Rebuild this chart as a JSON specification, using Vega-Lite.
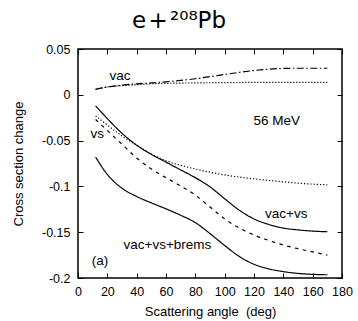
{
  "$schema": "https://vega.github.io/schema/vega-lite/v6.json",
  "width": 264,
  "height": 229,
  "autosize": "none",
  "padding": {"left": 78, "top": 49, "right": 16, "bottom": 43},
  "background": "white",
  "config": {"view": {"stroke": "black", "strokeWidth": 1.5}, "font": "Liberation Sans"},
  "title": {"text": "e\u200a+\u200a²⁰⁸Pb", "font": "DejaVu Sans", "fontSize": 23, "fontWeight": "normal", "anchor": "middle", "dx": -31, "offset": 10, "color": "black"},
  "datasets": {
    "curves": [
      {"s": "A", "x": 12, "y": 0.006}, {"s": "A", "x": 20, "y": 0.0085}, {"s": "A", "x": 30, "y": 0.0105}, {"s": "A", "x": 40, "y": 0.012}, {"s": "A", "x": 50, "y": 0.013}, {"s": "A", "x": 60, "y": 0.0142}, {"s": "A", "x": 70, "y": 0.0157}, {"s": "A", "x": 80, "y": 0.0175}, {"s": "A", "x": 90, "y": 0.0198}, {"s": "A", "x": 100, "y": 0.0222}, {"s": "A", "x": 110, "y": 0.0245}, {"s": "A", "x": 120, "y": 0.0265}, {"s": "A", "x": 130, "y": 0.028}, {"s": "A", "x": 140, "y": 0.0288}, {"s": "A", "x": 150, "y": 0.029}, {"s": "A", "x": 160, "y": 0.029}, {"s": "A", "x": 170, "y": 0.029},
      {"s": "B", "x": 12, "y": 0.006}, {"s": "B", "x": 20, "y": 0.0085}, {"s": "B", "x": 30, "y": 0.0100}, {"s": "B", "x": 40, "y": 0.011}, {"s": "B", "x": 50, "y": 0.012}, {"s": "B", "x": 60, "y": 0.0125}, {"s": "B", "x": 80, "y": 0.013}, {"s": "B", "x": 100, "y": 0.0133}, {"s": "B", "x": 120, "y": 0.0135}, {"s": "B", "x": 140, "y": 0.0135}, {"s": "B", "x": 170, "y": 0.0135},
      {"s": "C", "x": 12, "y": -0.023}, {"s": "C", "x": 20, "y": -0.033}, {"s": "C", "x": 30, "y": -0.045}, {"s": "C", "x": 40, "y": -0.055}, {"s": "C", "x": 50, "y": -0.0645}, {"s": "C", "x": 60, "y": -0.072}, {"s": "C", "x": 70, "y": -0.077}, {"s": "C", "x": 80, "y": -0.081}, {"s": "C", "x": 90, "y": -0.0845}, {"s": "C", "x": 100, "y": -0.0875}, {"s": "C", "x": 110, "y": -0.0898}, {"s": "C", "x": 120, "y": -0.0918}, {"s": "C", "x": 130, "y": -0.0935}, {"s": "C", "x": 140, "y": -0.095}, {"s": "C", "x": 150, "y": -0.0965}, {"s": "C", "x": 160, "y": -0.0975}, {"s": "C", "x": 170, "y": -0.0983},
      {"s": "D", "x": 12, "y": -0.012}, {"s": "D", "x": 20, "y": -0.026}, {"s": "D", "x": 30, "y": -0.042}, {"s": "D", "x": 40, "y": -0.055}, {"s": "D", "x": 50, "y": -0.065}, {"s": "D", "x": 60, "y": -0.0735}, {"s": "D", "x": 70, "y": -0.082}, {"s": "D", "x": 80, "y": -0.0905}, {"s": "D", "x": 90, "y": -0.1005}, {"s": "D", "x": 100, "y": -0.1135}, {"s": "D", "x": 110, "y": -0.126}, {"s": "D", "x": 120, "y": -0.1355}, {"s": "D", "x": 130, "y": -0.1415}, {"s": "D", "x": 140, "y": -0.1455}, {"s": "D", "x": 150, "y": -0.1475}, {"s": "D", "x": 160, "y": -0.1488}, {"s": "D", "x": 170, "y": -0.1495},
      {"s": "E", "x": 12, "y": -0.027}, {"s": "E", "x": 20, "y": -0.039}, {"s": "E", "x": 30, "y": -0.054}, {"s": "E", "x": 40, "y": -0.069}, {"s": "E", "x": 50, "y": -0.081}, {"s": "E", "x": 60, "y": -0.0905}, {"s": "E", "x": 70, "y": -0.0995}, {"s": "E", "x": 80, "y": -0.1095}, {"s": "E", "x": 90, "y": -0.1225}, {"s": "E", "x": 100, "y": -0.1355}, {"s": "E", "x": 110, "y": -0.1455}, {"s": "E", "x": 120, "y": -0.153}, {"s": "E", "x": 130, "y": -0.159}, {"s": "E", "x": 140, "y": -0.164}, {"s": "E", "x": 150, "y": -0.168}, {"s": "E", "x": 160, "y": -0.1715}, {"s": "E", "x": 170, "y": -0.175},
      {"s": "F", "x": 12, "y": -0.068}, {"s": "F", "x": 20, "y": -0.087}, {"s": "F", "x": 30, "y": -0.102}, {"s": "F", "x": 40, "y": -0.111}, {"s": "F", "x": 50, "y": -0.118}, {"s": "F", "x": 60, "y": -0.1245}, {"s": "F", "x": 70, "y": -0.1315}, {"s": "F", "x": 80, "y": -0.1395}, {"s": "F", "x": 90, "y": -0.1515}, {"s": "F", "x": 100, "y": -0.1645}, {"s": "F", "x": 110, "y": -0.1765}, {"s": "F", "x": 120, "y": -0.185}, {"s": "F", "x": 130, "y": -0.19}, {"s": "F", "x": 140, "y": -0.193}, {"s": "F", "x": 150, "y": -0.195}, {"s": "F", "x": 160, "y": -0.196}, {"s": "F", "x": 170, "y": -0.1965}
    ],
    "labels": [
      {"t": "vac", "x": 28.6, "y": 0.0207},
      {"t": "vs", "x": 13.2, "y": -0.0426},
      {"t": "56 MeV", "x": 135.5, "y": -0.0284},
      {"t": "(a)", "x": 15, "y": -0.181},
      {"t": "vac+vs", "x": 142, "y": -0.130},
      {"t": "vac+vs+brems", "x": 61, "y": -0.1638}
    ]
  },
  "layer": [
    {
      "data": {"name": "curves"},
      "mark": {"type": "line", "interpolate": "monotone", "strokeWidth": 1.2, "color": "black", "clip": true},
      "encoding": {
        "x": {"field": "x", "type": "quantitative", "scale": {"domain": [0, 180], "nice": false, "zero": false},
          "axis": {"orient": "bottom", "values": [0, 20, 40, 60, 80, 100, 120, 140, 160, 180], "title": "Scattering angle\u00a0 (deg)", "domain": false, "grid": false, "tickSize": -5, "tickColor": "black", "labelFont": "Liberation Sans", "labelFontSize": 12.5, "labelColor": "black", "labelPadding": 12, "labelFlush": false, "titleFont": "Liberation Sans", "titleFontSize": 13, "titleFontWeight": "normal", "titleColor": "black", "titlePadding": 8}},
        "y": {"field": "y", "type": "quantitative", "scale": {"domain": [-0.2, 0.05], "nice": false, "zero": false},
          "axis": {"orient": "left", "values": [0.05, 0, -0.05, -0.1, -0.15, -0.2], "labelExpr": "datum.value == 0 ? '0' : (datum.value < 0 ? '-' : '') + format(abs(datum.value), '~g')", "title": "Cross section change", "domain": false, "grid": false, "tickSize": -5, "tickColor": "black", "labelFont": "Liberation Sans", "labelFontSize": 12.5, "labelColor": "black", "labelPadding": 13, "labelFlush": false, "titleFont": "Liberation Sans", "titleFontSize": 13, "titleFontWeight": "normal", "titleColor": "black", "titlePadding": 16}},
        "detail": {"field": "s"},
        "strokeDash": {"field": "s", "type": "nominal", "scale": {"domain": ["A", "B", "C", "D", "E", "F"], "range": [[7, 2.5, 1.5, 2.5], [1.2, 1.8], [1.2, 2], [1, 0], [3.5, 4.5], [1, 0]]}, "legend": null}
      }
    },
    {
      "data": {"name": "labels"},
      "mark": {"type": "text", "font": "Liberation Sans", "fontSize": 13.5, "color": "black"},
      "encoding": {
        "x": {"field": "x", "type": "quantitative", "axis": {"orient": "top", "values": [0, 20, 40, 60, 80, 100, 120, 140, 160, 180], "labels": false, "title": null, "domain": false, "grid": false, "tickSize": -5, "tickColor": "black"}},
        "y": {"field": "y", "type": "quantitative", "axis": {"orient": "right", "values": [0.05, 0, -0.05, -0.1, -0.15, -0.2], "labels": false, "title": null, "domain": false, "grid": false, "tickSize": -5, "tickColor": "black"}},
        "text": {"field": "t"}
      }
    }
  ],
  "resolve": {"axis": {"x": "independent", "y": "independent"}}
}
